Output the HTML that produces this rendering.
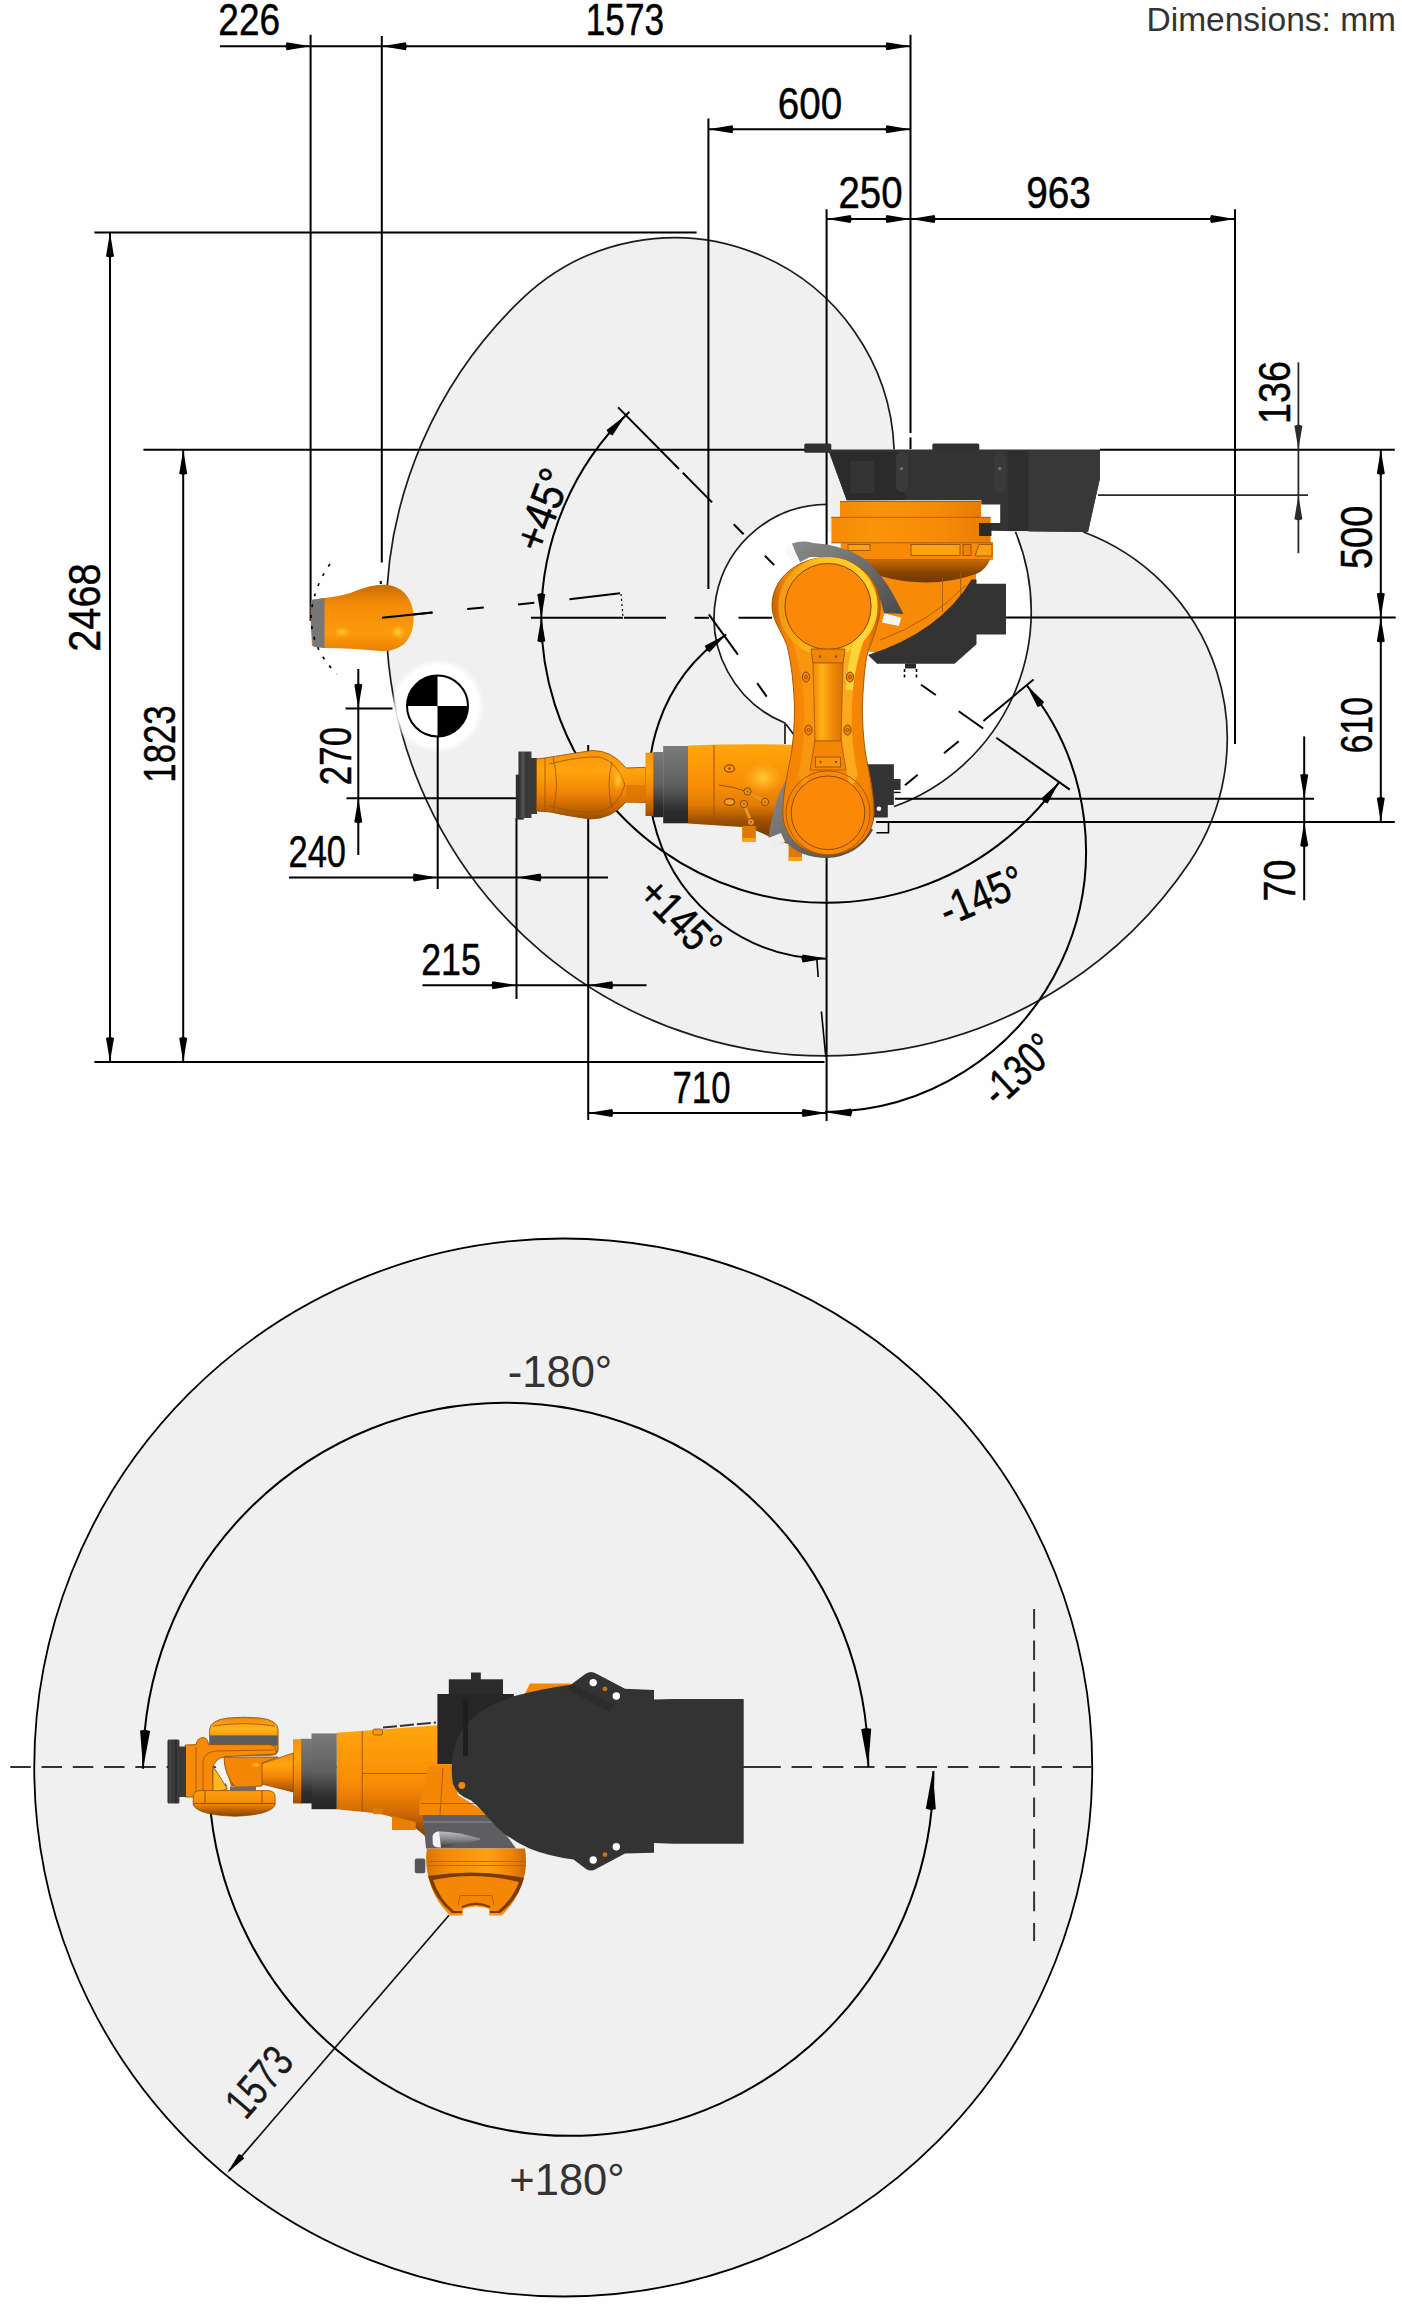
<!DOCTYPE html>
<html><head><meta charset="utf-8"><title>Work envelope</title>
<style>html,body{margin:0;padding:0;background:#fefefe}svg{display:block}</style></head>
<body><svg width="1402" height="2311" viewBox="0 0 1402 2311" font-family="'Liberation Sans', sans-serif">
<rect width="1402" height="2311" fill="#fefefe"/>
<path d="M894.1,449.4 A220.0,220.0 0 0 0 522.5,298.4 A439.3,439.3 0 1 0 1189.3,862.7 A220.8,220.8 0 0 0 1083.4,532.0 L895,532 Z" fill="#f0f0f0" stroke="none"/>
<path d="M827.3,504.3 A113.5,113.5 0 0 0 785.0,723.0 L785,745 L894.0,806.5 A207.5,207.5 0 0 0 1015.5,532.0 L827,532 Z" fill="#fefefe" stroke="none"/>
<path d="M894.1,449.4 A220.0,220.0 0 0 0 522.5,298.4 A439.3,439.3 0 1 0 1189.3,862.7 A220.8,220.8 0 0 0 1083.4,532.0" stroke="#1c1c1c" stroke-width="1.7" fill="none"/>
<path d="M827.3,504.3 A113.5,113.5 0 0 0 785.0,723.0 L785,744" stroke="#1c1c1c" stroke-width="1.7" fill="none"/>
<path d="M785.9,724 L795.5,737" stroke="#1c1c1c" stroke-width="1.7" fill="none"/>
<path d="M894.0,806.5 A207.5,207.5 0 0 0 1015.5,532.0" stroke="#1c1c1c" stroke-width="1.7" fill="none"/>
<defs><radialGradient id="halo"><stop offset="0.86" stop-color="#fff" stop-opacity="1"/><stop offset="1" stop-color="#fff" stop-opacity="0"/></radialGradient></defs>
<circle cx="437.5" cy="706" r="47" fill="url(#halo)"/>
<line x1="94.4" y1="232.4" x2="696.6" y2="232.4" stroke="#000" stroke-width="2" />
<line x1="143.4" y1="449.7" x2="830.0" y2="449.7" stroke="#000" stroke-width="2" />
<line x1="1100.0" y1="449.7" x2="1394.8" y2="449.7" stroke="#000" stroke-width="2" />
<line x1="94.4" y1="1062.0" x2="824.5" y2="1062.0" stroke="#000" stroke-width="2" />
<line x1="220.0" y1="46.2" x2="910.5" y2="46.2" stroke="#000" stroke-width="2" />
<line x1="708.4" y1="129.2" x2="910.5" y2="129.2" stroke="#000" stroke-width="2" />
<line x1="826.6" y1="219.0" x2="1235.0" y2="219.0" stroke="#000" stroke-width="2" />
<line x1="110.0" y1="232.4" x2="110.0" y2="1062.0" stroke="#000" stroke-width="2" />
<line x1="183.2" y1="449.7" x2="183.2" y2="1062.0" stroke="#000" stroke-width="2" />
<line x1="310.6" y1="34.7" x2="310.6" y2="621.0" stroke="#000" stroke-width="2" />
<line x1="381.8" y1="36.0" x2="381.8" y2="562.5" stroke="#000" stroke-width="2" />
<line x1="910.5" y1="34.7" x2="910.5" y2="433.0" stroke="#000" stroke-width="2" />
<line x1="910.5" y1="437.4" x2="910.5" y2="449.0" stroke="#000" stroke-width="2" />
<line x1="708.4" y1="118.6" x2="708.4" y2="589.0" stroke="#000" stroke-width="2" />
<line x1="826.6" y1="209.3" x2="826.6" y2="560.0" stroke="#000" stroke-width="2" />
<line x1="826.6" y1="856.0" x2="826.6" y2="1121.0" stroke="#000" stroke-width="2" />
<line x1="1235.0" y1="209.3" x2="1235.0" y2="744.0" stroke="#000" stroke-width="2" />
<line x1="1380.8" y1="449.7" x2="1380.8" y2="822.0" stroke="#000" stroke-width="2" />
<line x1="1006.0" y1="617.6" x2="1395.7" y2="617.6" stroke="#000" stroke-width="2" />
<line x1="894.9" y1="798.7" x2="1314.0" y2="798.7" stroke="#000" stroke-width="2" />
<line x1="876.4" y1="822.0" x2="1394.8" y2="822.0" stroke="#000" stroke-width="2" />
<line x1="531.0" y1="617.8" x2="623.0" y2="617.8" stroke="#000" stroke-width="2" />
<line x1="624.0" y1="617.8" x2="666.0" y2="617.8" stroke="#000" stroke-width="2" />
<line x1="694.5" y1="617.8" x2="709.0" y2="617.8" stroke="#000" stroke-width="2" />
<line x1="738.5" y1="617.8" x2="772.0" y2="617.8" stroke="#000" stroke-width="2" />
<line x1="358.3" y1="669.0" x2="358.3" y2="855.0" stroke="#000" stroke-width="2" />
<line x1="345.5" y1="708.6" x2="392.5" y2="708.6" stroke="#000" stroke-width="2" />
<line x1="346.5" y1="798.3" x2="516.0" y2="798.3" stroke="#000" stroke-width="2" />
<line x1="289.0" y1="877.5" x2="608.0" y2="877.5" stroke="#000" stroke-width="2" />
<line x1="437.7" y1="706.0" x2="437.7" y2="889.0" stroke="#000" stroke-width="2" />
<line x1="516.5" y1="818.0" x2="516.5" y2="999.0" stroke="#000" stroke-width="2" />
<line x1="422.5" y1="985.2" x2="646.5" y2="985.2" stroke="#000" stroke-width="2" />
<line x1="588.2" y1="818.0" x2="588.2" y2="1120.0" stroke="#000" stroke-width="2" />
<line x1="588.2" y1="745.0" x2="588.2" y2="751.0" stroke="#000" stroke-width="2" />
<line x1="588.2" y1="1113.0" x2="826.6" y2="1113.0" stroke="#000" stroke-width="2" />
<line x1="1298.4" y1="362.3" x2="1298.4" y2="553.2" stroke="#2a2a2a" stroke-width="1.8" />
<line x1="1098.0" y1="495.2" x2="1308.0" y2="495.2" stroke="#2a2a2a" stroke-width="1.8" />
<line x1="1304.2" y1="736.4" x2="1304.2" y2="900.3" stroke="#000" stroke-width="2" />
<polygon points="310.6,46.2 286.6,50.2 285.4,46.2 286.6,42.2" fill="#000"/>
<polygon points="381.8,46.2 405.8,42.2 407.0,46.2 405.8,50.2" fill="#000"/>
<polygon points="910.5,46.2 886.5,50.2 885.3,46.2 886.5,42.2" fill="#000"/>
<polygon points="708.4,129.2 732.4,125.2 733.6,129.2 732.4,133.2" fill="#000"/>
<polygon points="910.5,129.2 886.5,133.2 885.3,129.2 886.5,125.2" fill="#000"/>
<polygon points="826.6,219.0 850.6,215.0 851.8,219.0 850.6,223.0" fill="#000"/>
<polygon points="910.5,219.0 886.5,223.0 885.3,219.0 886.5,215.0" fill="#000"/>
<polygon points="910.5,219.0 934.5,215.0 935.7,219.0 934.5,223.0" fill="#000"/>
<polygon points="1235.0,219.0 1211.0,223.0 1209.8,219.0 1211.0,215.0" fill="#000"/>
<polygon points="110.0,232.4 114.0,256.4 110.0,257.6 106.0,256.4" fill="#000"/>
<polygon points="110.0,1062.0 106.0,1038.0 110.0,1036.8 114.0,1038.0" fill="#000"/>
<polygon points="183.2,449.7 187.2,473.7 183.2,474.9 179.2,473.7" fill="#000"/>
<polygon points="183.2,1062.0 179.2,1038.0 183.2,1036.8 187.2,1038.0" fill="#000"/>
<polygon points="1380.8,449.7 1384.8,473.7 1380.8,474.9 1376.8,473.7" fill="#000"/>
<polygon points="1380.8,617.6 1376.8,593.6 1380.8,592.4 1384.8,593.6" fill="#000"/>
<polygon points="1380.8,617.6 1384.8,641.6 1380.8,642.8 1376.8,641.6" fill="#000"/>
<polygon points="1380.8,822.0 1376.8,798.0 1380.8,796.8 1384.8,798.0" fill="#000"/>
<polygon points="1304.2,798.7 1300.2,774.7 1304.2,773.5 1308.2,774.7" fill="#000"/>
<polygon points="1304.2,822.0 1308.2,846.0 1304.2,847.2 1300.2,846.0" fill="#000"/>
<polygon points="358.3,708.6 354.3,684.6 358.3,683.4 362.3,684.6" fill="#000"/>
<polygon points="358.3,798.3 362.3,822.3 358.3,823.5 354.3,822.3" fill="#000"/>
<polygon points="437.7,877.5 413.7,881.5 412.5,877.5 413.7,873.5" fill="#000"/>
<polygon points="516.5,877.5 540.5,873.5 541.7,877.5 540.5,881.5" fill="#000"/>
<polygon points="516.5,985.2 492.5,989.2 491.3,985.2 492.5,981.2" fill="#000"/>
<polygon points="588.2,985.2 612.2,981.2 613.4,985.2 612.2,989.2" fill="#000"/>
<polygon points="588.2,1113.0 612.2,1109.0 613.4,1113.0 612.2,1117.0" fill="#000"/>
<polygon points="826.6,1113.0 802.6,1117.0 801.4,1113.0 802.6,1109.0" fill="#000"/>
<polygon points="1298.4,449.7 1294.4,425.7 1298.4,424.5 1302.4,425.7" fill="#2a2a2a"/>
<polygon points="1298.4,495.2 1302.4,519.2 1298.4,520.4 1294.4,519.2" fill="#2a2a2a"/>
<path d="M541.30,617.80 A285.00,285.00 0 0 1 629.40,411.75" stroke="#000" stroke-width="2" fill="none"/>
<path d="M541.30,617.80 A285.00,285.00 0 0 0 1059.19,782.08" stroke="#000" stroke-width="2" fill="none"/>
<polygon points="541.3,618.3 537.3,594.3 541.3,593.1 545.3,594.3" fill="#000"/>
<polygon points="541.3,617.3 545.3,641.3 541.3,642.5 537.3,641.3" fill="#000"/>
<polygon points="625.8,415.2 612.5,435.5 608.7,433.7 606.6,430.1" fill="#000"/>
<polygon points="1059.2,782.1 1047.7,803.5 1043.8,802.0 1041.3,798.6" fill="#000"/>
<line x1="618.1" y1="407.4" x2="679.0" y2="469.0" stroke="#000" stroke-width="2" />
<line x1="682.8" y1="472.8" x2="712.1" y2="502.4" stroke="#000" stroke-width="2" />
<line x1="733.7" y1="524.2" x2="743.6" y2="534.2" stroke="#000" stroke-width="2" />
<line x1="764.9" y1="555.7" x2="774.2" y2="565.1" stroke="#000" stroke-width="2" />
<line x1="1069.8" y1="789.6" x2="996.3" y2="737.7" stroke="#000" stroke-width="2" />
<line x1="983.2" y1="728.5" x2="958.7" y2="711.2" stroke="#000" stroke-width="2" />
<line x1="935.8" y1="695.0" x2="921.1" y2="684.7" stroke="#000" stroke-width="2" />
<path d="M726.27,634.40 A177.70,177.70 0 0 0 826.70,958.70" stroke="#000" stroke-width="2" fill="none"/>
<polygon points="726.3,634.4 709.6,652.2 706.3,649.7 704.8,645.8" fill="#000"/>
<polygon points="826.6,958.5 802.6,962.5 801.4,958.5 802.6,954.5" fill="#000"/>
<line x1="708.8" y1="614.4" x2="737.9" y2="654.6" stroke="#000" stroke-width="2" />
<line x1="816.8" y1="958.3" x2="818.2" y2="977.0" stroke="#000" stroke-width="1.6" />
<line x1="821.4" y1="1011.5" x2="825.8" y2="1057.0" stroke="#000" stroke-width="1.6" />
<path d="M825.00,1112.00 A261.00,261.00 0 0 0 1026.58,685.21" stroke="#000" stroke-width="2" fill="none"/>
<polygon points="1026.6,685.2 1044.1,702.1 1041.5,705.5 1037.6,706.9" fill="#000"/>
<polygon points="827.0,1112.4 851.0,1108.4 852.2,1112.4 851.0,1116.4" fill="#000"/>
<line x1="1033.6" y1="679.6" x2="983.4" y2="720.9" stroke="#000" stroke-width="2" />
<line x1="958.7" y1="741.2" x2="944.0" y2="753.3" stroke="#000" stroke-width="2" />
<line x1="917.7" y1="774.8" x2="905.0" y2="785.3" stroke="#000" stroke-width="2" />
<line x1="757.2" y1="683.2" x2="766.7" y2="696.6" stroke="#000" stroke-width="2" />
<line x1="382.0" y1="617.8" x2="432.5" y2="612.5" stroke="#000" stroke-width="2" />
<line x1="467.2" y1="609.0" x2="483.8" y2="607.4" stroke="#000" stroke-width="2" />
<line x1="518.0" y1="604.4" x2="534.3" y2="602.7" stroke="#000" stroke-width="2" />
<line x1="569.4" y1="599.3" x2="620.0" y2="593.3" stroke="#000" stroke-width="2" />
<line x1="621.0" y1="594.0" x2="623.0" y2="617.0" stroke="#000" stroke-width="1.2" stroke-dasharray="2 3"/>
<text transform="translate(249.2,35.0) rotate(0.0) scale(0.828,1)" font-size="44.7" text-anchor="middle" fill="#000" stroke="#000" stroke-width="0.45">226</text>
<text transform="translate(624.9,35.3) rotate(0.0) scale(0.788,1)" font-size="44.7" text-anchor="middle" fill="#000" stroke="#000" stroke-width="0.45">1573</text>
<text transform="translate(810.0,118.6) rotate(0.0) scale(0.864,1)" font-size="44.7" text-anchor="middle" fill="#000" stroke="#000" stroke-width="0.45">600</text>
<text transform="translate(870.5,207.5) rotate(0.0) scale(0.860,1)" font-size="44.7" text-anchor="middle" fill="#000" stroke="#000" stroke-width="0.45">250</text>
<text transform="translate(1058.5,207.5) rotate(0.0) scale(0.868,1)" font-size="44.7" text-anchor="middle" fill="#000" stroke="#000" stroke-width="0.45">963</text>
<text transform="translate(701.5,1103.0) rotate(0.0) scale(0.776,1)" font-size="44.7" text-anchor="middle" fill="#000" stroke="#000" stroke-width="0.45">710</text>
<text transform="translate(317.2,867.0) rotate(0.0) scale(0.770,1)" font-size="44.7" text-anchor="middle" fill="#000" stroke="#000" stroke-width="0.45">240</text>
<text transform="translate(451.0,974.5) rotate(0.0) scale(0.801,1)" font-size="44.7" text-anchor="middle" fill="#000" stroke="#000" stroke-width="0.45">215</text>
<text transform="translate(100.4,607.6) rotate(-90.0) scale(0.888,1)" font-size="44.7" text-anchor="middle" fill="#000" stroke="#000" stroke-width="0.45">2468</text>
<text transform="translate(175.2,744.0) rotate(-90.0) scale(0.778,1)" font-size="44.7" text-anchor="middle" fill="#000" stroke="#000" stroke-width="0.45">1823</text>
<text transform="translate(350.5,756.0) rotate(-90.0) scale(0.782,1)" font-size="44.7" text-anchor="middle" fill="#000" stroke="#000" stroke-width="0.45">270</text>
<text transform="translate(1290.0,392.5) rotate(-90.0) scale(0.842,1)" font-size="44.7" text-anchor="middle" fill="#000" stroke="#000" stroke-width="0.45">136</text>
<text transform="translate(1372.2,537.4) rotate(-90.0) scale(0.850,1)" font-size="44.7" text-anchor="middle" fill="#000" stroke="#000" stroke-width="0.45">500</text>
<text transform="translate(1371.5,725.2) rotate(-90.0) scale(0.755,1)" font-size="44.7" text-anchor="middle" fill="#000" stroke="#000" stroke-width="0.45">610</text>
<text transform="translate(1295.0,880.5) rotate(-90.0) scale(0.843,1)" font-size="44.7" text-anchor="middle" fill="#000" stroke="#000" stroke-width="0.45">70</text>
<text transform="translate(557.0,515.0) rotate(-69.5) scale(0.897,1)" font-size="44.7" text-anchor="middle" fill="#000" stroke="#000" stroke-width="0.45">+45°</text>
<text transform="translate(669.7,929.8) rotate(45.0) scale(0.804,1)" font-size="44.7" text-anchor="middle" fill="#000" stroke="#000" stroke-width="0.45">+145°</text>
<text transform="translate(987.6,909.6) rotate(-23.0) scale(0.816,1)" font-size="44.7" text-anchor="middle" fill="#000" stroke="#000" stroke-width="0.45">-145°</text>
<text transform="translate(1028.9,1080.9) rotate(-42.7) scale(0.766,1)" font-size="44.7" text-anchor="middle" fill="#000" stroke="#000" stroke-width="0.45">-130°</text>
<text x="1396" y="31" font-size="33.5" text-anchor="end" fill="#333">Dimensions: mm</text>
<circle cx="437.5" cy="706.0" r="30.5" fill="#fff" stroke="#000" stroke-width="2"/>
<path d="M437.5,706.0 L407.0,706.0 A30.5,30.5 0 0 1 437.5,675.5 Z" fill="#000"/>
<path d="M437.5,706.0 L468.0,706.0 A30.5,30.5 0 0 1 437.5,736.5 Z" fill="#000"/>
<defs>
<linearGradient id="gArm" x1="0" y1="0" x2="0" y2="1">
 <stop offset="0" stop-color="#ffa60a"/><stop offset="0.4" stop-color="#f98e06"/><stop offset="0.6" stop-color="#e27c04"/><stop offset="0.76" stop-color="#9c5000"/><stop offset="0.9" stop-color="#7c3e00"/><stop offset="1" stop-color="#9a5000"/>
</linearGradient>
<linearGradient id="gBand" x1="0" y1="0" x2="0" y2="1">
 <stop offset="0" stop-color="#7a7a7a"/><stop offset="0.5" stop-color="#606060"/><stop offset="0.85" stop-color="#2c2c2c"/><stop offset="1" stop-color="#262626"/>
</linearGradient>
<linearGradient id="gWrist" x1="0" y1="0" x2="0" y2="1">
 <stop offset="0" stop-color="#f9930a"/><stop offset="0.3" stop-color="#ffa40c"/><stop offset="0.62" stop-color="#f08406"/><stop offset="0.85" stop-color="#c06400"/><stop offset="1" stop-color="#9a4e00"/>
</linearGradient>
<linearGradient id="gFlange" x1="0" y1="0" x2="1" y2="0">
 <stop offset="0" stop-color="#2a2a2a"/><stop offset="0.35" stop-color="#555"/><stop offset="0.6" stop-color="#333"/><stop offset="1" stop-color="#444"/>
</linearGradient>
<linearGradient id="gRing" x1="0" y1="0" x2="1" y2="0">
 <stop offset="0" stop-color="#f48a06"/><stop offset="0.25" stop-color="#fb940a"/><stop offset="0.7" stop-color="#f78a06"/><stop offset="1" stop-color="#e87c04"/>
</linearGradient>
<linearGradient id="gBowl" x1="0" y1="0" x2="0" y2="1">
 <stop offset="0" stop-color="#c86a02"/><stop offset="0.55" stop-color="#8a4600"/><stop offset="1" stop-color="#6e3600"/>
</linearGradient>
<linearGradient id="gLink" x1="0" y1="0" x2="1" y2="0">
 <stop offset="0" stop-color="#c46200"/><stop offset="0.12" stop-color="#f38404"/><stop offset="0.5" stop-color="#f98c06"/><stop offset="0.88" stop-color="#f38404"/><stop offset="1" stop-color="#c46200"/>
</linearGradient>
<linearGradient id="gChan" x1="0" y1="0" x2="1" y2="0">
 <stop offset="0" stop-color="#ee8a08"/><stop offset="0.3" stop-color="#ffb018"/><stop offset="0.6" stop-color="#f48c08"/><stop offset="1" stop-color="#d87404"/>
</linearGradient>
<radialGradient id="gHi" cx="0.5" cy="0.5" r="0.5"><stop offset="0" stop-color="#ffd23c" stop-opacity="0.95"/><stop offset="1" stop-color="#ffb020" stop-opacity="0"/></radialGradient>
<linearGradient id="gCover" x1="0" y1="0" x2="1" y2="1">
 <stop offset="0" stop-color="#8a8a8a"/><stop offset="0.5" stop-color="#6c6c6c"/><stop offset="1" stop-color="#4a4a4a"/>
</linearGradient>
<linearGradient id="gGhost" x1="0" y1="0" x2="0" y2="1">
 <stop offset="0" stop-color="#c86c00"/><stop offset="0.3" stop-color="#f58c06"/><stop offset="0.75" stop-color="#fb9a0a"/><stop offset="1" stop-color="#e88004"/>
</linearGradient>
</defs>
<path d="M311,600 L324,598 Q345,596 358,590 Q374,584 388,585 Q408,588 413,610 Q416,632 404,644 Q394,652 380,651 Q350,648 324,648 L312,646 Q310,622 311,600 Z" fill="url(#gGhost)"/>
<path d="M311,600 L324.5,598 L324.5,648 L313,646.5 Q310,622 311,600 Z" fill="#777"/>
<ellipse cx="342" cy="632" rx="9" ry="6" fill="url(#gHi)"/>
<ellipse cx="398" cy="632" rx="8" ry="8" fill="url(#gHi)"/>
<line x1="382.0" y1="617.8" x2="432.5" y2="612.5" stroke="#000" stroke-width="2" />
<path d="M330,564 Q312,590 311,618 Q312,650 337,674" stroke="#000" stroke-width="1.6" fill="none" stroke-dasharray="3 8"/>
<line x1="380.8" y1="581.0" x2="380.8" y2="584.0" stroke="#000" stroke-width="2" />
<rect x="804.3" y="443.5" width="27" height="9.2" rx="1.5" fill="#303030"/>
<rect x="932.3" y="443.5" width="47" height="8" rx="1.5" fill="#303030"/>
<path d="M828.5,449.6 L1100,449.6 L1100,478 L1088,532 L991,530.8 L991,536 L979,536 L979,523 L1000.2,523 L1000.2,504.4 L981.3,504.4 L981.3,500.3 L846.7,500.3 L829.5,452.7 Z" fill="#333333"/>
<path d="M829,452 L905,452 L905,500 L846.7,500.3 Z" fill="#2b2b2b"/>
<rect x="850.5" y="461" width="24" height="32" fill="#343434"/>
<rect x="896" y="452" width="12" height="40" rx="5" fill="#3a3a3a"/>
<rect x="994" y="452" width="12" height="40" rx="5" fill="#3a3a3a"/>
<circle cx="901.5" cy="468.5" r="1.6" fill="#777"/><circle cx="999.8" cy="468.5" r="1.6" fill="#777"/>
<rect x="1008" y="451" width="20.6" height="80" fill="#2e2e2e"/>
<path d="M1028.6,451 L1100,451 L1100,478 L1088,532 L1028.6,531.5 Z" fill="#383838"/>
<rect x="840" y="501" width="141" height="16.5" fill="url(#gRing)"/>
<rect x="831.4" y="517" width="159.2" height="26" fill="url(#gRing)"/>
<rect x="840.6" y="542.5" width="152.4" height="17.5" fill="#f78a06"/>
<path d="M840,501.5 H981 M831.4,517.3 H990.6 M831.4,542.8 H993 M843,559.6 H990" stroke="#a65800" stroke-width="0.9" fill="none"/>
<rect x="848" y="544.5" width="22" height="6" fill="#ffa010" stroke="#8a4a00" stroke-width="0.8"/>
<rect x="911" y="544.5" width="49" height="11" fill="#ffa010" stroke="#8a4a00" stroke-width="0.8"/>
<rect x="963" y="544.5" width="8" height="11" fill="#f08406" stroke="#8a4a00" stroke-width="0.8"/>
<path d="M975,556 L979,544.5 L992,544.5 L992,556 Z" fill="#ffa010" stroke="#8a4a00" stroke-width="0.8"/>
<path d="M870,560 L976,560 L976,581 L971.6,580 Q950,628 877,653 L860,650 L860,560 Z" fill="#f78a06"/>
<path d="M843,559.8 L990,559.8 Q986,570 976,574 Q930,590 880,576 Q862,568 843,559.8 Z" fill="url(#gBowl)"/>
<rect x="979" y="523" width="12.5" height="13" fill="#2a2a2a"/>
<path d="M942.5,578 V612 M960.7,572 V598" stroke="#a65800" stroke-width="0.9" fill="none"/>
<path d="M880,640 Q930,622 966,585" stroke="#a65800" stroke-width="0.9" fill="none"/>
<path d="M971.6,579.5 L976.5,579.5 L976.5,583.7 L1006,583.7 L1006,634.6 L976.5,634.6 L976.5,644.3 L954.6,663.7 L877,663.7 L868,655 Q940,632 971.6,579.5 Z" fill="#333333"/>
<rect x="905" y="663.5" width="11" height="5" fill="#2a2a2a"/>
<path d="M904.5,669 v11 M916.5,669 v11" stroke="#000" stroke-width="1.6" stroke-dasharray="3 2.5"/>
<rect x="515.8" y="774.6" width="8" height="45" fill="#2e2e2e"/>
<rect x="518.5" y="751.5" width="13" height="66.5" fill="url(#gFlange)"/>
<rect x="530" y="758" width="7" height="56" fill="#3a3a3a"/>
<path d="M536.4,759 L548,757.5 Q575,753 592,750.5 Q612,750 626,768 L645.5,767.3 L645.5,802.5 L626,802 Q612,819 590,819 Q568,816 550,812 L536.4,811 Z" fill="url(#gWrist)" stroke="#8a4a00" stroke-width="0.8"/>
<path d="M545,758 V812 M553,757 Q560,785 553,812" stroke="#9a5200" stroke-width="0.8" fill="none"/>
<path d="M549,764 Q580,756 600,757 Q618,762 625,785 Q618,808 598,812 Q575,813 549,806" stroke="#9a5200" stroke-width="0.8" fill="none"/>
<path d="M612,762 Q606,785 612,808" stroke="#9a5200" stroke-width="0.8" fill="none"/>
<ellipse cx="618" cy="780" rx="6" ry="12" fill="url(#gHi)"/>
<rect x="626" y="785" width="20" height="17.5" fill="#d87404" opacity="0.7"/>
<rect x="645.5" y="752.7" width="8.5" height="63.3" fill="url(#gWrist)"/>
<rect x="653.3" y="752" width="10.2" height="65.2" fill="url(#gBand)"/>
<rect x="663.2" y="746" width="25" height="77.3" fill="url(#gBand)"/>
<path d="M688,745.6 Q740,743.5 793,744.8 L800,790 L790,845 L768,836 Q752,828 742,827 L688,823.4 Z" fill="url(#gArm)"/>
<path d="M714,745 V825" stroke="#9a5200" stroke-width="1" fill="none"/>
<ellipse cx="763" cy="778" rx="20" ry="16" fill="url(#gHi)"/>
<rect x="742.2" y="826" width="13.6" height="15.6" fill="#e07804"/><rect x="742.2" y="838" width="13.6" height="3.6" fill="#ffa010"/>
<rect x="788.6" y="845" width="13.4" height="15.8" fill="#e07804"/><rect x="788.6" y="857" width="13.4" height="3.8" fill="#ffa010"/>
<ellipse cx="729.5" cy="768.5" rx="5" ry="3.6" fill="none" stroke="#8a4600" stroke-width="1.2"/><circle cx="729.5" cy="768.5" r="1.2" fill="#8a4600"/>
<ellipse cx="729.5" cy="802" rx="5" ry="3.4" fill="#f9a020" stroke="#8a4600" stroke-width="1.2"/>
<path d="M719,785 Q735,787 745,791" stroke="#8a4600" stroke-width="0.9" fill="none"/>
<path d="M747.5,791.5 L765,802" stroke="#e89424" stroke-width="3.2"/><path d="M744,804 L751,822" stroke="#e89424" stroke-width="3.2"/>
<circle cx="747.5" cy="791.5" r="3.6" fill="#e89424" stroke="#8a4600" stroke-width="1"/><circle cx="747.5" cy="791.5" r="1.2" fill="#b86a10"/>
<circle cx="765.0" cy="802.0" r="3.6" fill="#e89424" stroke="#8a4600" stroke-width="1"/><circle cx="765.0" cy="802.0" r="1.2" fill="#b86a10"/>
<circle cx="744.0" cy="804.0" r="3.6" fill="#e89424" stroke="#8a4600" stroke-width="1"/><circle cx="744.0" cy="804.0" r="1.2" fill="#b86a10"/>
<circle cx="751.0" cy="822.0" r="3.6" fill="#e89424" stroke="#8a4600" stroke-width="1"/><circle cx="751.0" cy="822.0" r="1.2" fill="#b86a10"/>
<path d="M865,764.3 L893.9,764.3 L893.9,778.9 L900.6,778.9 L900.6,790 L893.9,790 L893.9,805 L887.8,805 L887.8,817.4 L868,817.4 L865,800 Z" fill="#333333"/>
<line x1="894.0" y1="792.4" x2="900.6" y2="792.4" stroke="#000" stroke-width="1.4" />
<circle cx="878.9" cy="808.8" r="2.3" fill="#fff"/>
<path d="M876.4,822 L888.5,822 L888.5,832.7 L876.4,832.7" stroke="#000" stroke-width="1.6" fill="none"/>
<path d="M792,543.5 Q802,540 813,543 Q844,545 866,560 Q884,577 893,594 L903.5,614 L884,613 Q880,592 866,577 Q846,556 810,557 L800,562 Q795,552 792,543.5 Z" fill="url(#gCover)"/>
<path d="M884.3,613.5 L901.3,617.6 L898.8,626.1 L881.9,622.5 Z" fill="#f4f4f4"/>
<path d="M784.9,549.7 L790.9,544.9 L798.2,559.4 L792.1,563 Z" fill="#f8f8f8"/>
<path d="M786,780 Q774,800 768.5,837 L774,846 L786,842 Q800,858 828,858 Q858,856 873,830 L869,826 Q852,850 827,850 Q796,848 784,815 Z" fill="url(#gCover)"/>
<path d="M768.4,838 L781,833 L785,842 L773.5,847 Z" fill="#eee"/>
<path d="M828,557.4 C856,557.4 880,578 880.2,607 C880.2,622 872,640 867.7,652.4 C864.5,664 863,690 862.3,707 C862.3,725 864,748 867,761.4 C870,776 874,795 874,812.8 C874,836 854,854.9 828,854.9 C802,854.9 782.8,836 782.8,812.8 C782.8,795 787,776 789.8,761.4 C793,748 794.5,725 794.5,707 C794,690 792,664 786.7,644.6 C781,630 772,620 772,605.7 C772,578 798,557.4 828,557.4 Z" fill="url(#gLink)" stroke="#a85600" stroke-width="1"/>
<path d="M784,620 C792,640 800,660 803,690 C806,720 804,750 798,775 L806,790 C812,760 816,735 815,700 C814,670 812,650 806,640 Z" fill="#f9a21a" opacity="0.55"/>
<path d="M872,620 C864,640 856,660 853,690 C850,720 852,750 858,775 L850,790 C844,760 840,735 841,700 C842,670 844,650 850,640 Z" fill="#ffc030" opacity="0.6"/>
<defs><linearGradient id="gYR" x1="0" y1="0" x2="1" y2="0"><stop offset="0" stop-color="#f29a14"/><stop offset="0.45" stop-color="#ffc21e"/><stop offset="1" stop-color="#ffd430"/></linearGradient></defs>
<circle cx="828" cy="606.5" r="46.5" fill="none" stroke="url(#gYR)" stroke-width="6"/>
<path d="M868,628 C862,645 856,660 853,690 L846,690 C848,660 852,645 858,632 Z" fill="#ffd83a" opacity="0.9"/>
<circle cx="828" cy="606.5" r="43" fill="#fb8806" stroke="#8a4a00" stroke-width="1"/>
<path d="M811,649 L845,649 L843,663 L813,663 Z" fill="#f08606" stroke="#8a4a00" stroke-width="0.8"/>
<path d="M813,663 L843,663 L841,741 L815,741 Z" fill="url(#gChan)" stroke="#a85600" stroke-width="0.8"/>
<path d="M815,741 L841,741 L846,770 L810,770 Z" fill="#f38604" stroke="#a85600" stroke-width="0.8"/>
<rect x="815.5" y="757" width="25" height="10" fill="#fb940c" stroke="#8a4a00" stroke-width="0.8"/>
<circle cx="820.5" cy="762" r="1.2" fill="#8a4a00"/><circle cx="836" cy="762" r="1.2" fill="#8a4a00"/>
<circle cx="820" cy="656.5" r="1.2" fill="#8a4a00"/><circle cx="836" cy="656.5" r="1.2" fill="#8a4a00"/>
<ellipse cx="806.0" cy="677.0" rx="3.6" ry="5" fill="#f38404" stroke="#8a4a00" stroke-width="1"/><circle cx="806.0" cy="677.0" r="1.5" fill="none" stroke="#8a4a00" stroke-width="0.8"/>
<ellipse cx="850.0" cy="677.0" rx="3.6" ry="5" fill="#f38404" stroke="#8a4a00" stroke-width="1"/><circle cx="850.0" cy="677.0" r="1.5" fill="none" stroke="#8a4a00" stroke-width="0.8"/>
<ellipse cx="808.5" cy="730.0" rx="3.6" ry="5" fill="#f38404" stroke="#8a4a00" stroke-width="1"/><circle cx="808.5" cy="730.0" r="1.5" fill="none" stroke="#8a4a00" stroke-width="0.8"/>
<ellipse cx="847.5" cy="730.0" rx="3.6" ry="5" fill="#f38404" stroke="#8a4a00" stroke-width="1"/><circle cx="847.5" cy="730.0" r="1.5" fill="none" stroke="#8a4a00" stroke-width="0.8"/>
<circle cx="828" cy="812.8" r="42" fill="none" stroke="#a85600" stroke-width="1"/>
<circle cx="828" cy="812.8" r="36.8" fill="#fb8806" stroke="#8a4a00" stroke-width="1"/>
<circle cx="563.25" cy="1767.50" r="529.0" fill="#f0f0f0" stroke="#000" stroke-width="1.8"/>
<line x1="10.3" y1="1767.0" x2="1092.0" y2="1767.0" stroke="#333" stroke-width="2" stroke-dasharray="20.5 10.75"/>
<line x1="744.0" y1="1767.0" x2="780.0" y2="1767.0" stroke="#333" stroke-width="2" />
<line x1="1034.1" y1="1609.0" x2="1034.1" y2="1941.0" stroke="#333" stroke-width="2" stroke-dasharray="19.7 11.7"/>
<path d="M143.12,1768.80 A362.60,362.60 0 1 1 868.30,1766.90" stroke="#000" stroke-width="2" fill="none"/>
<polygon points="143.1,1768.8 140.1,1730.6 145.2,1729.7 150.1,1731.1" fill="#000"/>
<polygon points="868.2,1767.0 861.2,1729.3 866.1,1727.9 871.2,1728.8" fill="#000"/>
<path d="M210.84,1813.70 A362.40,362.40 0 0 0 933.39,1770.97" stroke="#000" stroke-width="2" fill="none"/>
<polygon points="932.8,1771.0 935.8,1809.2 930.7,1810.1 925.8,1808.7" fill="#000"/>
<line x1="449.0" y1="1915.2" x2="229.0" y2="2171.0" stroke="#111" stroke-width="1.7" />
<polygon points="227.1,2173.0 238.8,2154.0 242.2,2155.4 244.1,2158.6" fill="#000"/>
<text transform="translate(270.5,2092.0) rotate(-49.5) scale(0.775,1)" font-size="44.7" text-anchor="middle" fill="#1a1a1a" stroke="#1a1a1a" stroke-width="0.2">1573</text>
<text x="560" y="1387" font-size="43.5" text-anchor="middle" fill="#333">-180°</text>
<text x="567" y="2194.5" font-size="43.5" text-anchor="middle" fill="#333">+180°</text>
<defs>
<linearGradient id="gArmB" x1="0" y1="0" x2="0" y2="1">
 <stop offset="0" stop-color="#ffa60c"/><stop offset="0.5" stop-color="#f98c06"/><stop offset="0.75" stop-color="#d06a02"/><stop offset="0.92" stop-color="#8a4600"/><stop offset="1" stop-color="#9c5000"/>
</linearGradient>
<linearGradient id="gCap" x1="0" y1="0" x2="0" y2="1">
 <stop offset="0" stop-color="#f08606"/><stop offset="0.3" stop-color="#ffb520"/><stop offset="0.6" stop-color="#f48a06"/><stop offset="1" stop-color="#d87404"/>
</linearGradient>
<linearGradient id="gCapL" x1="0" y1="0" x2="0" y2="1">
 <stop offset="0" stop-color="#ffa00c"/><stop offset="0.5" stop-color="#f48a06"/><stop offset="0.8" stop-color="#b65c00"/><stop offset="1" stop-color="#8a4600"/>
</linearGradient>
<linearGradient id="gDome" x1="0" y1="0" x2="1" y2="0">
 <stop offset="0" stop-color="#d87404"/><stop offset="0.2" stop-color="#f48a06"/><stop offset="0.62" stop-color="#ffa010"/><stop offset="0.85" stop-color="#f08406"/><stop offset="1" stop-color="#c86802"/>
</linearGradient>
<linearGradient id="gCone" x1="0" y1="0" x2="0" y2="1">
 <stop offset="0" stop-color="#bdbdbd"/><stop offset="0.45" stop-color="#8c8c8c"/><stop offset="1" stop-color="#3c3c3c"/>
</linearGradient>
</defs>
<path d="M336.5,1732.8 L438,1725.3 L452,1727 L452,1790 L430,1842 Q420,1828 396,1818.5 Q382,1813.5 374,1813 L336.5,1809.2 Z" fill="url(#gArmB)"/>
<path d="M362.2,1731 V1811 M363,1773.5 H430" stroke="#9a5200" stroke-width="0.9" fill="none"/>
<rect x="373" y="1729" width="9.5" height="6" rx="1.5" fill="#f9980c" stroke="#8a4a00" stroke-width="0.8"/>
<rect x="373" y="1807.7" width="9.5" height="6.5" rx="1.5" fill="#e07a04"/>
<path d="M392,1816 L415.7,1822 L415.7,1830 L392,1830 Z" fill="#e88004"/>
<path d="M383,1727.5 L436,1722.5" stroke="#333" stroke-width="2" stroke-dasharray="14 3"/>
<rect x="311.5" y="1733.4" width="25.2" height="75.8" fill="url(#gBand)"/>
<rect x="300.2" y="1738.8" width="11.8" height="64.6" fill="url(#gBand)"/>
<rect x="293" y="1739.2" width="8.2" height="64.2" fill="url(#gWrist)"/>
<path d="M262,1763.5 L293.3,1753 L293.3,1792 L262,1784 L225.5,1786 L225.5,1757 Z" fill="url(#gWrist)" stroke="#8a4a00" stroke-width="0.8"/>
<path d="M209.6,1730 Q210,1720 228,1718 Q244,1716.5 260,1718 Q278,1720 278.1,1730 L278.1,1750 Q278,1755.3 270,1755.3 L216,1755.3 Q209.6,1755 209.6,1750 Z" fill="url(#gCap)" stroke="#8a4a00" stroke-width="0.8"/>
<rect x="210" y="1735.4" width="67.8" height="10.2" fill="#5c5c5c"/>
<path d="M213,1726 Q244,1721 275,1726" stroke="#9a5200" stroke-width="0.8" fill="none"/>
<path d="M185.2,1745 L196,1744.6 Q197,1738 203,1737.5 Q208,1738 208.5,1744.6 L270,1744.6 Q277,1746 276,1754 L226,1756.5 Q214,1758 212.5,1770 L214,1797 L185.2,1797 Z" fill="#f78a06" stroke="#8a4a00" stroke-width="0.8"/>
<path d="M196,1747 V1795 M203,1762 V1795 M203,1762 Q204,1752 216,1751 L274,1750" stroke="#9a5200" stroke-width="0.8" fill="none"/>
<path d="M214,1764 L224.5,1764 L231.5,1788 L228.5,1788 Z" fill="#f4f4f4"/>
<path d="M213,1766 L227.5,1789 L213,1793 Z" fill="#ffb81e" stroke="#8a4a00" stroke-width="0.8"/>
<path d="M224,1757 Q224,1775 236,1788 L262,1786 L262,1763 L278,1757 Z" fill="#f38604" stroke="#8a4a00" stroke-width="0.8"/>
<ellipse cx="256" cy="1765" rx="6" ry="3" fill="url(#gHi)"/>
<path d="M193.2,1797 Q193.2,1791 200,1790.6 L268,1790.6 Q275.1,1791 275.1,1797 L275.1,1805 Q270,1815 235,1816.2 Q198,1815 193.2,1805 Z" fill="url(#gCapL)" stroke="#8a4a00" stroke-width="0.8"/>
<path d="M194,1803.5 H274.5 M205,1791 V1803 M262,1791 V1803" stroke="#7a4000" stroke-width="0.8" fill="none"/>
<rect x="230" y="1786.5" width="26" height="4.5" fill="#7a6a5a"/>
<rect x="167.5" y="1739.6" width="12" height="63.8" rx="1.5" fill="url(#gFlange)"/>
<rect x="178.5" y="1746.5" width="7.5" height="50.5" fill="#3a3a3a"/>
<path d="M172,1740 V1803 M176,1740 V1803" stroke="#222" stroke-width="1"/>
<path d="M428.5,1767 L452,1764 L458,1795 L490,1815 L419.4,1815 L419.4,1803.6 Z" fill="#f48806"/>
<path d="M421,1803.5 H480 M443,1768 L440,1815" stroke="#9a5200" stroke-width="0.8" fill="none"/>
<path d="M422.8,1815 L492,1815 L516,1848.5 L426,1848.5 Z" fill="#5e5e62"/>
<path d="M423,1822 H498" stroke="#77777c" stroke-width="2"/>
<path d="M438,1831.5 Q455,1831 480,1838.5 L480,1840 Q455,1846 440,1847.5 Z" fill="url(#gCone)"/>
<path d="M432.5,1836 Q434,1831.5 439,1831.5 L441,1847.5 Q434,1848 432.8,1844 Z" fill="#f2f2f2"/>
<rect x="414.8" y="1858.4" width="10.5" height="14.8" rx="2" fill="#55555a"/>
<path d="M427,1848.5 L525,1848.5 Q527,1862 525,1873 Q520,1898 501.6,1915.5 L489,1915.5 L489,1909 Q476,1904 462.8,1909 L462.8,1915.5 L450.2,1915.5 Q432,1898 427.5,1873 Q425,1860 427,1848.5 Z" fill="url(#gDome)"/>
<path d="M427,1861.5 H526 M427,1865.5 H526" stroke="#b86000" stroke-width="0.9"/>
<path d="M428,1876 Q476,1868 524,1878 Q518,1900 500,1913 L490,1913 L490,1908 Q476,1902 462,1908 L462,1913 L452,1913 Q434,1898 428,1876 Z" fill="#7a3c00"/>
<path d="M433,1880 Q476,1871 519,1882 Q512,1900 498,1911 L490,1911 L490,1906 Q476,1899 462,1906 L462,1911 L454,1911 Q440,1900 433,1880 Z" fill="#f48806"/>
<path d="M458,1905 L460,1895.5 L492,1895.5 L494,1905" stroke="#b86000" stroke-width="1" fill="none"/>
<rect x="471" y="1672.5" width="9.8" height="8" fill="#2c2c2c"/>
<rect x="448.8" y="1679.3" width="54.2" height="16" fill="#2b2b2b"/>
<rect x="437.4" y="1694" width="76.4" height="70" fill="#262626"/>
<path d="M524.7,1694 L530,1683.4 L571,1683.4 L571,1694 Z" fill="#f48806"/>
<path d="M516.5,1695.6 Q540,1689 570.8,1684.7 L586,1673.5 Q591,1670.5 596,1673.5 L625,1688.8 L654,1690 L654,1699.5 L673.8,1699 L743.7,1699 L743.7,1843.8 L673.8,1843.8 L654,1843 L654,1852.8 L625,1853.5 L596,1869 Q591,1872 586,1869 L573.5,1859.5 Q548,1856 530,1848.7 Q505,1838 489.4,1818.9 Q478,1806 470.8,1800.2 Q457,1796 452.9,1783.6 Q450,1765 454.2,1748.4 Q462,1712 516.5,1695.6 Z" fill="#333333"/>
<path d="M463,1700 L468,1700 L468,1756 L463,1756 Z" fill="#1e1e1e"/>
<path d="M566,1689 L610,1712 L614,1705 L572,1684 Z" fill="#2c2c2c"/>
<circle cx="593.2" cy="1682.6" r="3.7" fill="#fff"/>
<circle cx="616.3" cy="1696.0" r="3.7" fill="#fff"/>
<circle cx="616.3" cy="1846.8" r="3.7" fill="#fff"/>
<circle cx="593.2" cy="1860.0" r="3.7" fill="#fff"/>
<circle cx="605" cy="1688.8" r="2.4" fill="#c8701a"/><circle cx="605" cy="1854.6" r="2.4" fill="#c8701a"/>
<circle cx="461.8" cy="1785.5" r="3.4" fill="#f48806"/>
</svg></body></html>
